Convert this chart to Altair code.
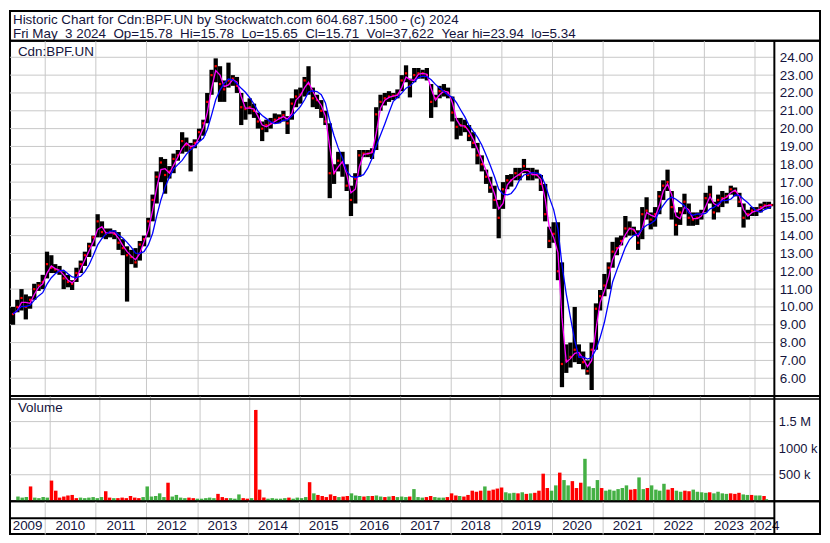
import altair as alt
import pandas as pd

FONT = "Liberation Sans"
TXT = "#14143c"
GRID = "#c8c8c8"

W, PW = 816, 770          # full panel width, plot (price/volume) width
TH, PH, VH, BH = 30, 358, 106, 33

# ---------------- data (monthly) ----------------
months = []
for yy in range(2009, 2025):
    for mm in range(1, 13):
        if (2009, 5) <= (yy, mm) <= (2024, 5):
            months.append(f"{yy}-{mm:02d}-15")
months[-1] = "2024-05-02"

high = [
    10.0, 10.4, 11.0, 10.7, 10.6, 11.3, 11.4, 11.8,                      # 2009 May-Dec
    13.1, 12.9, 12.4, 12.3, 12.0, 11.8, 11.5, 12.2, 12.6, 13.1, 13.6, 14.0,  # 2010
    15.2, 14.8, 14.4, 14.4, 14.3, 14.2, 13.8, 13.4, 13.2, 13.3, 13.7, 14.0,  # 2011
    15.0, 16.3, 17.6, 18.4, 18.3, 17.9, 18.6, 18.8, 19.8, 19.5, 19.2, 19.4,  # 2012
    20.0, 20.5, 22.0, 23.3, 23.94, 23.5, 22.7, 23.7, 23.0, 22.9, 22.0, 21.5,  # 2013
    21.7, 21.4, 20.9, 20.4, 20.5, 20.6, 20.85, 20.8, 21.0, 20.7, 21.7, 22.2,  # 2014
    22.3, 22.9, 23.5, 22.3, 21.9, 21.6, 21.0, 20.3, 18.0, 18.7, 18.7, 18.0,  # 2015
    16.8, 17.5, 18.8, 18.8, 18.8, 18.9, 21.2, 21.9, 22.0, 22.1, 22.0, 22.2,  # 2016
    23.0, 23.55, 22.8, 23.4, 23.4, 23.3, 23.4, 22.5, 21.9, 22.4, 22.5, 22.3,  # 2017
    21.8, 20.6, 20.6, 20.5, 20.2, 19.8, 19.2, 18.5, 17.7, 17.3, 16.8, 16.0,  # 2018
    17.0, 17.4, 17.45, 17.8, 17.8, 18.3, 17.8, 17.8, 17.7, 17.4, 16.9, 14.5,  # 2019
    14.75, 14.75, 12.5, 7.9, 8.0, 10.0, 7.9, 7.5, 7.0, 8.0, 10.2, 10.95,   # 2020
    11.85, 12.5, 13.65, 13.9, 14.0, 15.1, 14.8, 14.5, 14.3, 15.6, 16.15, 15.3,  # 2021
    15.6, 16.5, 17.1, 17.7, 16.5, 15.3, 15.6, 16.35, 15.8, 15.3, 15.3, 15.45,  # 2022
    16.4, 16.8, 15.9, 16.3, 16.5, 16.4, 16.8, 16.7, 16.4, 15.8, 15.45, 15.6,  # 2023
    15.6, 15.8, 15.9, 15.9, 15.78,                                        # 2024 Jan-May
]
low = [
    9.0, 9.7, 9.8, 9.3, 9.9, 10.4, 10.9, 11.0,
    11.6, 11.9, 11.9, 11.8, 11.0, 11.1, 10.95, 11.4, 11.9, 12.3, 12.8, 13.4,
    13.9, 13.9, 13.8, 13.9, 13.8, 13.2, 12.9, 10.3, 12.4, 12.2, 12.6, 13.4,
    13.9, 14.8, 15.8, 17.0, 16.35, 17.2, 17.5, 18.2, 18.6, 18.7, 17.6, 18.9,
    19.3, 19.6, 20.3, 21.9, 22.6, 21.5, 21.5, 22.3, 22.4, 22.0, 20.2, 20.5,
    20.8, 20.6, 20.0, 19.3, 19.8, 20.0, 20.3, 20.3, 20.4, 19.7, 20.5, 21.2,
    21.4, 21.8, 21.9, 21.2, 21.1, 20.6, 20.2, 16.1, 16.9, 17.6, 17.3, 16.5,
    15.1, 15.8, 17.3, 18.4, 18.4, 18.3, 18.8, 21.0, 21.3, 21.5, 21.6, 21.7,
    22.1, 22.6, 21.75, 22.6, 22.8, 22.8, 22.7, 20.6, 21.2, 21.7, 21.8, 21.7,
    20.4, 19.4, 19.6, 19.8, 19.3, 18.9, 18.0, 17.6, 16.9, 16.4, 15.5, 13.85,
    15.5, 16.6, 16.75, 17.1, 17.1, 17.5, 17.1, 17.1, 17.2, 16.5, 14.8, 13.3,
    13.6, 11.5, 5.5, 6.3, 6.6, 6.9, 6.8, 6.5, 6.2, 5.34, 7.6, 9.8,
    10.6, 11.0, 12.2, 12.9, 13.45, 13.9, 14.0, 14.0, 13.2, 13.8, 14.9, 14.35,
    14.5, 15.2, 16.0, 16.5, 14.9, 14.0, 14.6, 15.2, 14.55, 14.55, 14.6, 14.9,
    15.3, 15.8, 14.9, 15.3, 15.6, 15.8, 16.3, 16.2, 15.6, 14.45, 14.9, 15.1,
    15.1, 15.3, 15.5, 15.5, 15.65,
]
close = [
    9.6, 10.0, 10.5, 10.0, 10.4, 11.0, 11.2, 11.4,
    12.4, 12.2, 12.1, 12.0, 11.6, 11.4, 11.3, 11.9, 12.4, 12.9, 13.4, 13.9,
    14.8, 14.2, 14.1, 14.2, 14.1, 13.6, 13.3, 12.9, 12.8, 12.5, 13.5, 13.8,
    14.8, 16.0, 17.3, 18.1, 17.4, 17.6, 18.3, 18.5, 19.3, 19.1, 18.9, 19.2,
    19.8, 20.3, 21.5, 23.0, 23.5, 22.5, 22.2, 22.7, 22.8, 22.4, 21.2, 21.1,
    21.2, 21.0, 20.4, 20.0, 20.2, 20.3, 20.5, 20.6, 20.75, 20.3, 21.4, 21.8,
    21.9, 22.7, 22.5, 21.7, 21.6, 21.0, 20.4, 17.5, 17.5, 18.2, 18.1, 16.8,
    16.0, 17.2, 18.5, 18.6, 18.6, 18.7, 20.8, 21.5, 21.7, 21.8, 21.85, 21.9,
    22.7, 23.1, 22.4, 23.0, 23.1, 23.1, 23.0, 21.5, 21.7, 22.1, 22.1, 22.0,
    20.9, 20.1, 20.2, 20.1, 19.6, 19.2, 18.5, 18.0, 17.3, 16.7, 16.0, 15.0,
    16.6, 17.1, 17.1, 17.5, 17.4, 17.9, 17.4, 17.45, 17.4, 16.9, 15.2, 13.7,
    14.1, 12.0, 6.8, 7.0, 7.2, 7.6, 7.3, 6.9, 6.4, 7.6, 9.9, 10.6,
    11.2, 12.2, 13.1, 13.3, 13.7, 14.4, 14.4, 14.3, 13.6, 15.2, 15.4, 14.9,
    15.2, 16.2, 16.8, 17.0, 15.6, 14.6, 15.3, 15.9, 15.0, 14.9, 15.0, 15.2,
    16.1, 16.3, 15.3, 16.0, 16.1, 16.2, 16.6, 16.5, 15.9, 15.0, 15.2, 15.4,
    15.4, 15.6, 15.7, 15.7, 15.71,
]
volume_k = [
    90, 70, 80, 280, 70, 60, 80, 70,
    390, 200, 70, 90, 110, 120, 60, 70, 60, 70, 80, 60,
    80, 190, 70, 60, 60, 70, 60, 100, 70, 60, 80, 280,
    90, 100, 150, 80, 350, 90, 120, 70, 60, 70, 60, 50,
    50, 60, 70, 60, 140, 80, 60, 60, 50, 130, 60, 50,
    60, 1720, 220, 70, 50, 60, 50, 50, 60, 70, 50, 70,
    60, 80, 360, 150, 120, 100, 80, 130, 100, 80, 90, 100,
    150, 110, 100, 90, 100, 100, 110, 90, 80, 90, 100, 80,
    90, 80, 90, 230, 80, 70, 80, 100, 80, 70, 70, 80,
    150, 110, 100, 90, 120, 200, 180, 200, 280, 200, 220, 240,
    260, 170, 150, 160, 150, 170, 140, 150, 160, 200, 520, 250,
    200, 300, 540, 400, 300, 380, 250, 350, 800, 280, 250, 400,
    250, 200, 220, 200, 230, 250, 300, 220, 230, 450, 230, 250,
    300, 220, 200, 330, 220, 250, 200, 180, 200, 190, 220, 180,
    170, 160, 170, 150, 180, 150, 140, 150, 140, 160, 130, 120,
    120, 110, 110, 100, 40,
]
volume_dir = (
    "gggrgggg" + "rrrrrrrggggg" + "grrgrrrrrrgg" + "ggggrggggrrg" + "ggggrrrgggrr"
    + "grrrgggggrgg" + "ggrgrrrrrgrr" + "gggrgrggrgrg" + "ggrgggrrgggr" + "rrgrrrrrgrrr"
    + "rgggrgrgrrrr" + "ggrggrrrgggg" + "rggggggrrggr" + "ggggrrggrrgg" + "ggrggggrrrgg"
    + "rggrg"
)

price_ticks = [6, 7, 8, 9, 10, 11, 12, 13, 14, 15, 16, 17, 18, 19, 20, 21, 22, 23, 24]
volume_ticks = [500000, 1000000, 1500000]
year_labels = [str(y) for y in range(2009, 2025)]
year_label_dates = ["2009-08-28"] + [f"{y}-07-02" for y in range(2010, 2024)] + ["2024-03-14"]

line1 = "Historic Chart for Cdn:BPF.UN by Stockwatch.com 604.687.1500 - (c) 2024"
line2 = ("Fri May \u00a03 2024 \u00a0Op=15.78 \u00a0Hi=15.78 \u00a0Lo=15.65 \u00a0Cl=15.71"
         " \u00a0Vol=37,622 \u00a0Year hi=23.94 \u00a0lo=5.34")

assert len(months) == len(high) == len(low) == len(close) == len(volume_k) == len(volume_dir)

df = pd.DataFrame({
    "date": months, "high": high, "low": low, "close": close,
    "vol": [v * 1000 for v in volume_k], "dir": list(volume_dir),
})
one = pd.DataFrame({"a": [0]})

# ---------------- scales / axes ----------------
x_scale = alt.Scale(domain=[alt.DateTime(year=2009, month=4, date=23),
                            alt.DateTime(year=2024, month=5, date=24)],
                    range=[0, PW])
year_axis = alt.Axis(values=[alt.DateTime(year=y, month=1, date=1) for y in range(2010, 2025)],
                     grid=True, gridColor=GRID, gridWidth=1, labels=False, ticks=False,
                     domain=False, title=None)
xenc = alt.X("date:T", scale=x_scale, axis=year_axis)

yps = alt.Scale(domain=[5, 24.93], nice=False, zero=False)
yaxis_p = alt.Axis(orient="right", offset=-(W - PW), values=price_ticks, format=".2f",
                   grid=False, ticks=False, domain=False, labelPadding=5, title=None,
                   labelFont=FONT, labelFontSize=13.5, labelColor=TXT)


def yP(f):
    return alt.Y(f, scale=yps, axis=yaxis_p)


vys = alt.Scale(domain=[0, 1980000], nice=False)
yaxis_v = alt.Axis(orient="right", offset=-(W - PW), values=volume_ticks,
                   labelExpr="datum.value >= 1500000 ? '1.5 M' : format(datum.value / 1000, 'd') + ' k'",
                   grid=False, ticks=False, domain=False, labelPadding=4, title=None,
                   labelFont=FONT, labelFontSize=13, labelColor=TXT)


def yV(f):
    return alt.Y(f, scale=vys, axis=yaxis_v)


base = alt.Chart(df)

# ---------------- title box ----------------
t1 = alt.Chart(pd.DataFrame({"t": [line1]})).mark_text(
    align="left", baseline="middle", font=FONT, fontSize=13.5, color=TXT
).encode(text="t:N", x=alt.value(3), y=alt.value(9))
t2 = alt.Chart(pd.DataFrame({"t": [line2]})).mark_text(
    align="left", baseline="middle", font=FONT, fontSize=13.5, color=TXT
).encode(text="t:N", x=alt.value(3), y=alt.value(23))
title_box = alt.layer(t1, t2).properties(width=W, height=TH)

# ---------------- price panel ----------------
grid_p = alt.Chart(pd.DataFrame({"g": price_ticks})).mark_rule(color=GRID, strokeWidth=1).encode(
    y=yP("g:Q"), x=alt.value(0), x2=alt.value(PW))
bars = base.mark_rule(strokeWidth=4.3, color="black").encode(x=xenc, y=yP("low:Q"), y2="high:Q")
reds = base.mark_square(size=5, color="red", opacity=1).encode(x=xenc, y=yP("close:Q"))
ma_fast = base.transform_window(
    ma_fast="mean(close)", frame=[-1, 0], sort=[alt.SortField("date")]
).mark_line(color="#ff00ff", strokeWidth=1.3).encode(x=xenc, y=yP("ma_fast:Q"))
ma_slow = base.transform_window(
    ma_slow="mean(close)", frame=[-4, 0], sort=[alt.SortField("date")]
).mark_line(color="#0000ff", strokeWidth=1.3).encode(x=xenc, y=yP("ma_slow:Q"))
sep_p = alt.Chart(one).mark_rule(color="black", strokeWidth=2).encode(
    x=alt.value(PW), y=alt.value(0), y2=alt.value(PH))
sym = alt.Chart(pd.DataFrame({"t": ["Cdn:BPF.UN"]})).mark_text(
    align="left", baseline="middle", font=FONT, fontSize=13.5, color=TXT
).encode(text="t:N", x=alt.value(8), y=alt.value(11))
price = alt.layer(grid_p, bars, reds, ma_fast, ma_slow, sep_p, sym).properties(width=W, height=PH)

# ---------------- volume panel ----------------
grid_v = alt.Chart(pd.DataFrame({"g": volume_ticks})).mark_rule(color=GRID, strokeWidth=1).encode(
    y=yV("g:Q"), x=alt.value(0), x2=alt.value(PW))
vbars = base.mark_bar(size=3.5).encode(
    x=xenc, y=yV("vol:Q"),
    color=alt.Color("dir:N", scale=alt.Scale(domain=["r", "g"], range=["#ff0000", "#44b044"]), legend=None))
sep_v = alt.Chart(one).mark_rule(color="black", strokeWidth=2).encode(
    x=alt.value(PW), y=alt.value(0), y2=alt.value(VH))
dbl = alt.Chart(one).mark_rule(color="black", strokeWidth=1.5).encode(
    x=alt.value(0), x2=alt.value(W), y=alt.value(3))
vlab = alt.Chart(pd.DataFrame({"t": ["Volume"]})).mark_text(
    align="left", baseline="middle", font=FONT, fontSize=13.5, color=TXT
).encode(text="t:N", x=alt.value(8), y=alt.value(12))
volume = alt.layer(grid_v, vbars, sep_v, dbl, vlab).properties(width=W, height=VH)

# ---------------- year row ----------------
ylab = alt.Chart(pd.DataFrame({"d": year_label_dates, "lab": year_labels})).mark_text(
    font=FONT, fontSize=13.5, color=TXT, baseline="middle"
).encode(x=alt.X("d:T", scale=x_scale, axis=year_axis), text="lab:N", y=alt.value(25))
mid = alt.Chart(one).mark_rule(color="black", strokeWidth=2).encode(
    x=alt.value(0), x2=alt.value(PW), y=alt.value(17))
sep_b = alt.Chart(one).mark_rule(color="black", strokeWidth=2).encode(
    x=alt.value(PW), y=alt.value(0), y2=alt.value(BH))
years = alt.layer(ylab, mid, sep_b).properties(width=W, height=BH)

chart = alt.vconcat(
    title_box, price, volume, years, spacing=0, padding=0, bounds="flush", background="white"
).configure_view(
    stroke="black", strokeWidth=2
).configure_axis(
    labelFont=FONT, labelFontSize=13.5, labelColor=TXT
)

chart.save("out.html", embed_options={"renderer": "svg", "actions": False})
